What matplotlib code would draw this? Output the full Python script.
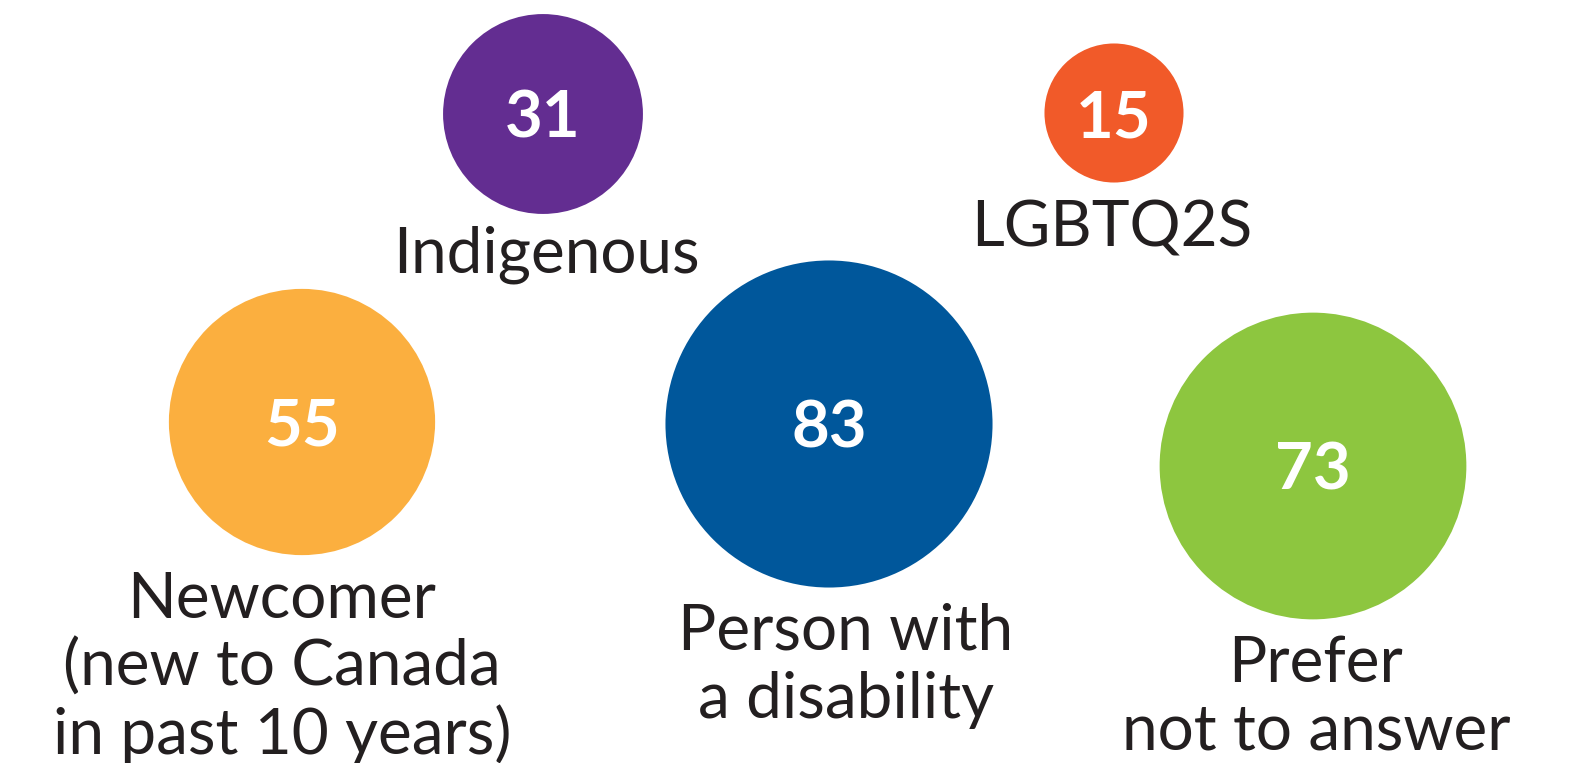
import numpy as np
import matplotlib.pyplot as plt
from matplotlib.patches import Circle

# data
categories = ["Indigenous", "LGBTQ2S", "Newcomer\n(new to Canada\nin past 10 years)",
              "Person with\na disability", "Prefer\nnot to answer"]
counts = [31, 15, 55, 83, 73]
colors = ["#632D91", "#F15A29", "#FBAF3F", "#00579B", "#8DC63F"]

# layout (pixel space of the 1578x763 canvas)
W, H = 1578, 763
centers_x = [543, 1114, 302, 829, 1313]
centers_y = [114, 113, 422, 424, 466]
label_x = [546, 1112, 282, 846, 1316]
label_y = [273, 247, 618, 650, 682]   # baseline of first line
line_step = 68
scale = 17.95   # radius = scale * sqrt(count)

fig = plt.figure(figsize=(W / 100, H / 100), dpi=100)
ax = fig.add_axes([0, 0, 1, 1])
ax.set_xlim(0, W)
ax.set_ylim(H, 0)
ax.set_aspect("equal")
ax.axis("off")

for i, (cat, n, c) in enumerate(zip(categories, counts, colors)):
    r = scale * np.sqrt(n)
    ax.add_patch(Circle((centers_x[i], centers_y[i]), r, color=c, lw=0))
    ax.text(centers_x[i], centers_y[i], str(n), color="white", fontsize=47,
            fontweight="bold", family="Lato", ha="center", va="center_baseline")
    for j, line in enumerate(cat.split("\n")):
        ax.text(label_x[i], label_y[i] + j * line_step, line, color="#231F20",
                fontsize=46, family="Lato", ha="center", va="baseline")

fig.savefig("out.png", dpi=100)
